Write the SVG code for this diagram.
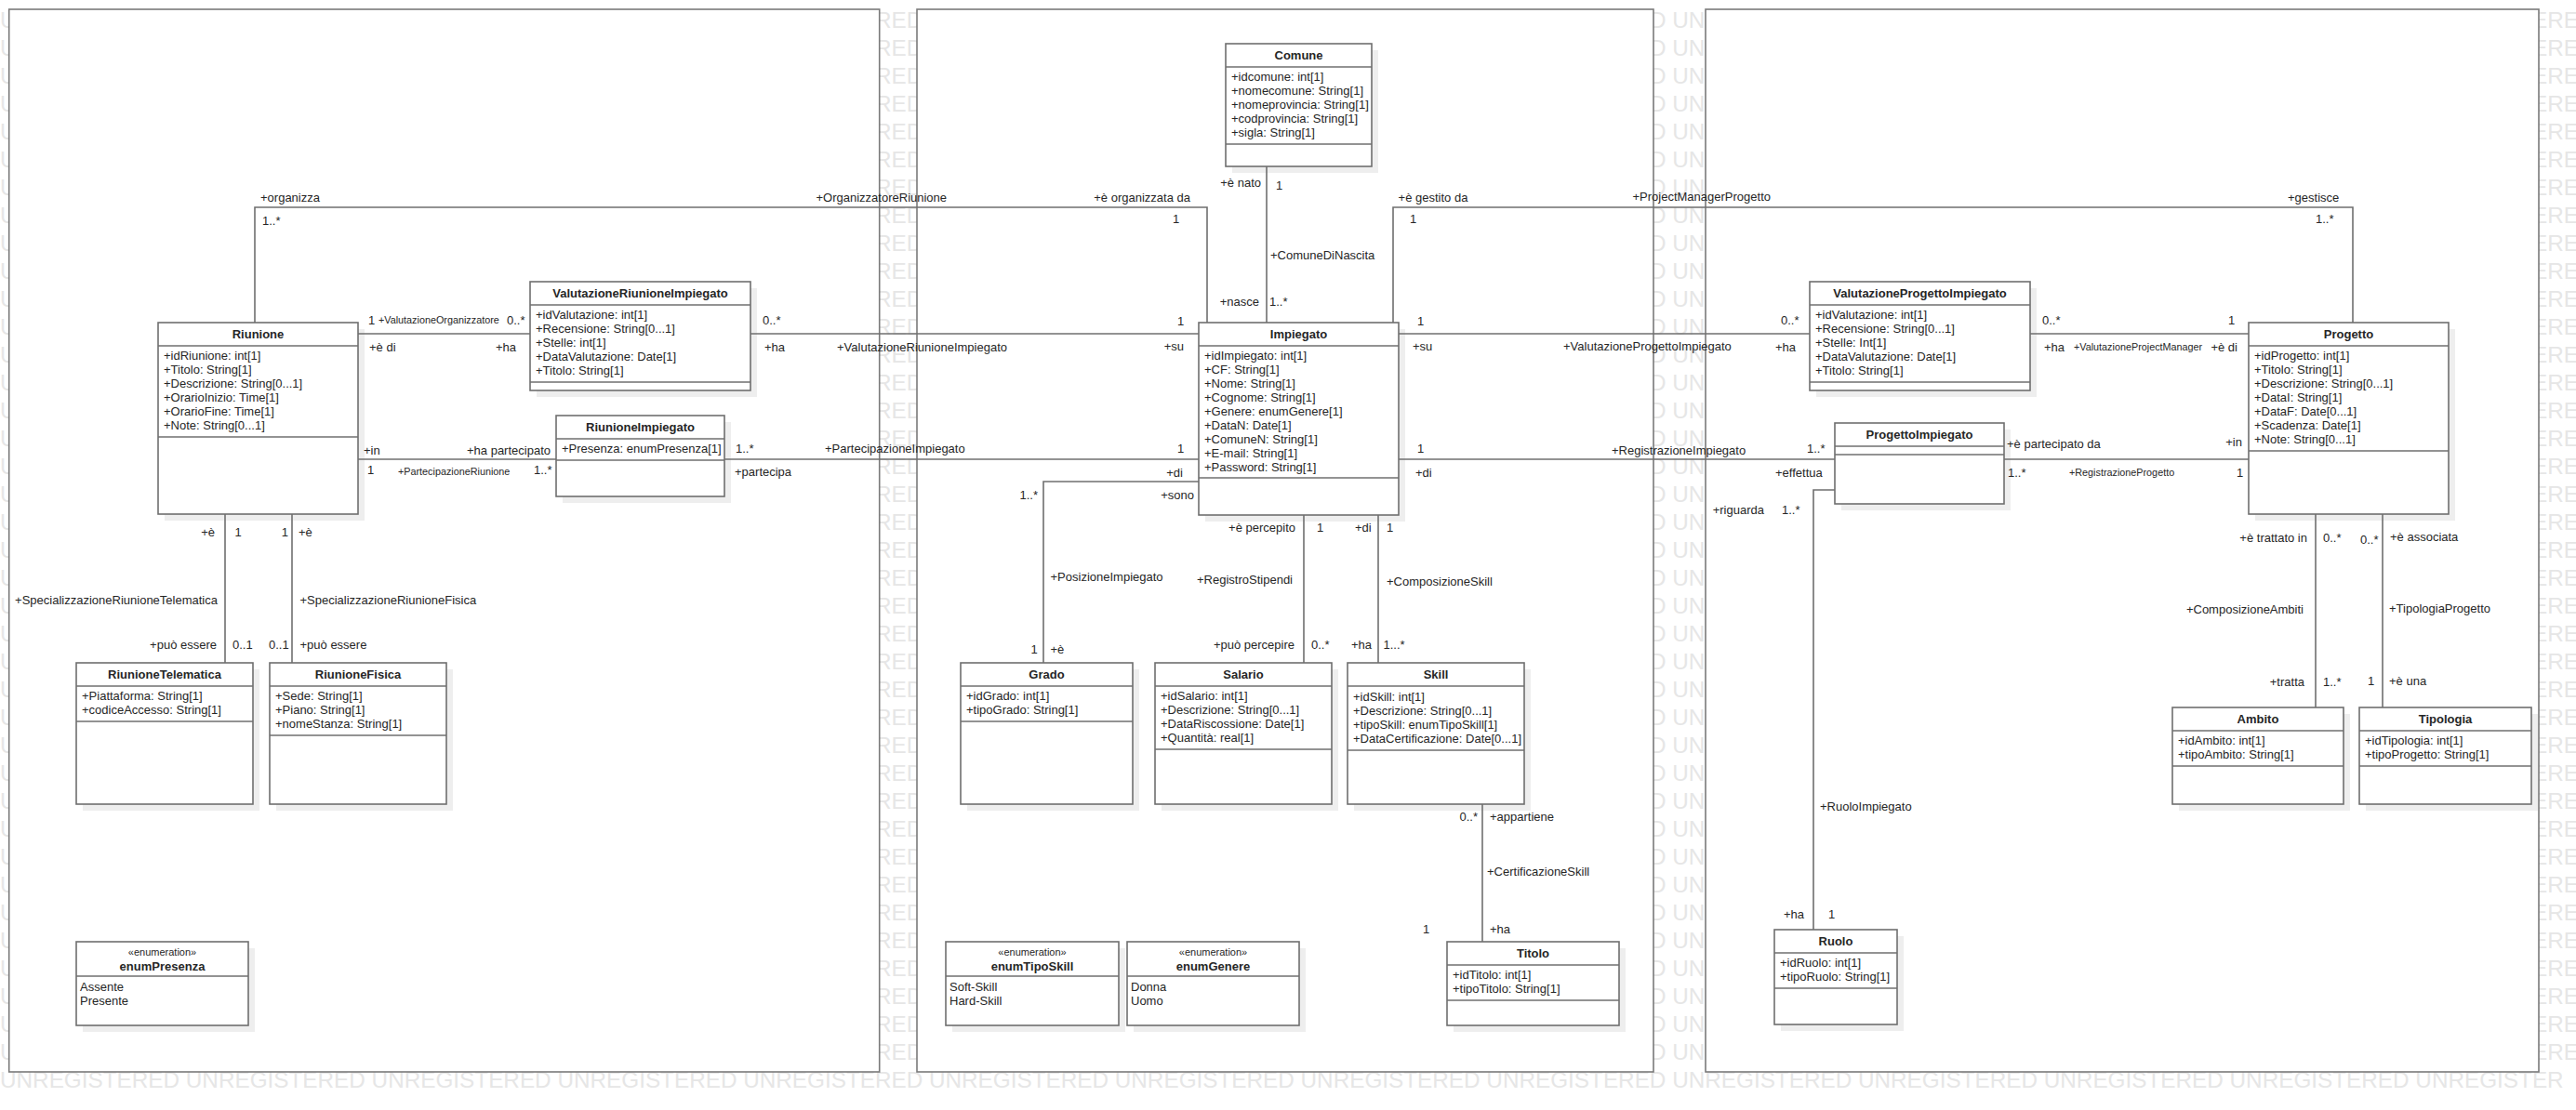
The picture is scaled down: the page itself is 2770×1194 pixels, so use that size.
<svg xmlns="http://www.w3.org/2000/svg" width="2770" height="1194" viewBox="0 0 2770 1194">
<style>
.wm{font-family:'Liberation Sans',Arial,sans-serif;font-size:24.3px;fill:#e6e6e6}
.pn{fill:#fff;stroke:#7a7a7a;stroke-width:1.6}
.sh{fill:#eeeeee}
.bx{fill:#fff;stroke:#6f6f6f;stroke-width:1.6}
.dv{stroke:#6f6f6f;stroke-width:1.6}
.cn{fill:none;stroke:#6f6f6f;stroke-width:1.6}
.t{font-family:'Liberation Sans',Arial,sans-serif;font-size:13px;fill:#262626}
.b{font-weight:bold}
.s{font-size:10.8px}
.st{font-size:11px}
.e{text-anchor:end}
.m{text-anchor:middle}
</style>
<rect x="0" y="0" width="2770" height="1194" fill="#fff"/>
<!-- licence watermark: only the pieces left visible around the frames -->
<g id="watermark" class="wm">
<g id="wm-left">
<text x="0" y="30.3">U</text><text x="0" y="60.3">U</text><text x="0" y="90.3">U</text><text x="0" y="120.3">U</text><text x="0" y="150.3">U</text><text x="0" y="180.3">U</text><text x="0" y="210.3">U</text><text x="0" y="240.3">U</text><text x="0" y="270.3">U</text><text x="0" y="300.3">U</text>
<text x="0" y="330.3">U</text><text x="0" y="360.3">U</text><text x="0" y="390.3">U</text><text x="0" y="420.3">U</text><text x="0" y="450.3">U</text><text x="0" y="480.3">U</text><text x="0" y="510.3">U</text><text x="0" y="540.3">U</text><text x="0" y="570.3">U</text><text x="0" y="600.3">U</text>
<text x="0" y="630.3">U</text><text x="0" y="660.3">U</text><text x="0" y="690.3">U</text><text x="0" y="720.3">U</text><text x="0" y="750.3">U</text><text x="0" y="780.3">U</text><text x="0" y="810.3">U</text><text x="0" y="840.3">U</text><text x="0" y="870.3">U</text><text x="0" y="900.3">U</text>
<text x="0" y="930.3">U</text><text x="0" y="960.3">U</text><text x="0" y="990.3">U</text><text x="0" y="1020.3">U</text><text x="0" y="1050.3">U</text><text x="0" y="1080.3">U</text><text x="0" y="1110.3">U</text><text x="0" y="1140.3">U</text>
</g>
<g id="wm-gap1">
<text x="941" y="30.3">RED</text><text x="941" y="60.3">RED</text><text x="941" y="90.3">RED</text><text x="941" y="120.3">RED</text><text x="941" y="150.3">RED</text><text x="941" y="180.3">RED</text><text x="941" y="210.3">RED</text><text x="941" y="240.3">RED</text><text x="941" y="270.3">RED</text><text x="941" y="300.3">RED</text>
<text x="941" y="330.3">RED</text><text x="941" y="360.3">RED</text><text x="941" y="390.3">RED</text><text x="941" y="420.3">RED</text><text x="941" y="450.3">RED</text><text x="941" y="480.3">RED</text><text x="941" y="510.3">RED</text><text x="941" y="540.3">RED</text><text x="941" y="570.3">RED</text><text x="941" y="600.3">RED</text>
<text x="941" y="630.3">RED</text><text x="941" y="660.3">RED</text><text x="941" y="690.3">RED</text><text x="941" y="720.3">RED</text><text x="941" y="750.3">RED</text><text x="941" y="780.3">RED</text><text x="941" y="810.3">RED</text><text x="941" y="840.3">RED</text><text x="941" y="870.3">RED</text><text x="941" y="900.3">RED</text>
<text x="941" y="930.3">RED</text><text x="941" y="960.3">RED</text><text x="941" y="990.3">RED</text><text x="941" y="1020.3">RED</text><text x="941" y="1050.3">RED</text><text x="941" y="1080.3">RED</text><text x="941" y="1110.3">RED</text><text x="941" y="1140.3">RED</text>
</g>
<g id="wm-gap2">
<text x="1773.9" y="30.3">D UN</text><text x="1773.9" y="60.3">D UN</text><text x="1773.9" y="90.3">D UN</text><text x="1773.9" y="120.3">D UN</text><text x="1773.9" y="150.3">D UN</text><text x="1773.9" y="180.3">D UN</text><text x="1773.9" y="210.3">D UN</text><text x="1773.9" y="240.3">D UN</text><text x="1773.9" y="270.3">D UN</text><text x="1773.9" y="300.3">D UN</text>
<text x="1773.9" y="330.3">D UN</text><text x="1773.9" y="360.3">D UN</text><text x="1773.9" y="390.3">D UN</text><text x="1773.9" y="420.3">D UN</text><text x="1773.9" y="450.3">D UN</text><text x="1773.9" y="480.3">D UN</text><text x="1773.9" y="510.3">D UN</text><text x="1773.9" y="540.3">D UN</text><text x="1773.9" y="570.3">D UN</text><text x="1773.9" y="600.3">D UN</text>
<text x="1773.9" y="630.3">D UN</text><text x="1773.9" y="660.3">D UN</text><text x="1773.9" y="690.3">D UN</text><text x="1773.9" y="720.3">D UN</text><text x="1773.9" y="750.3">D UN</text><text x="1773.9" y="780.3">D UN</text><text x="1773.9" y="810.3">D UN</text><text x="1773.9" y="840.3">D UN</text><text x="1773.9" y="870.3">D UN</text><text x="1773.9" y="900.3">D UN</text>
<text x="1773.9" y="930.3">D UN</text><text x="1773.9" y="960.3">D UN</text><text x="1773.9" y="990.3">D UN</text><text x="1773.9" y="1020.3">D UN</text><text x="1773.9" y="1050.3">D UN</text><text x="1773.9" y="1080.3">D UN</text><text x="1773.9" y="1110.3">D UN</text><text x="1773.9" y="1140.3">D UN</text>
</g>
<g id="wm-right">
<text x="2723" y="30.3">ERE</text><text x="2723" y="60.3">ERE</text><text x="2723" y="90.3">ERE</text><text x="2723" y="120.3">ERE</text><text x="2723" y="150.3">ERE</text><text x="2723" y="180.3">ERE</text><text x="2723" y="210.3">ERE</text><text x="2723" y="240.3">ERE</text><text x="2723" y="270.3">ERE</text><text x="2723" y="300.3">ERE</text>
<text x="2723" y="330.3">ERE</text><text x="2723" y="360.3">ERE</text><text x="2723" y="390.3">ERE</text><text x="2723" y="420.3">ERE</text><text x="2723" y="450.3">ERE</text><text x="2723" y="480.3">ERE</text><text x="2723" y="510.3">ERE</text><text x="2723" y="540.3">ERE</text><text x="2723" y="570.3">ERE</text><text x="2723" y="600.3">ERE</text>
<text x="2723" y="630.3">ERE</text><text x="2723" y="660.3">ERE</text><text x="2723" y="690.3">ERE</text><text x="2723" y="720.3">ERE</text><text x="2723" y="750.3">ERE</text><text x="2723" y="780.3">ERE</text><text x="2723" y="810.3">ERE</text><text x="2723" y="840.3">ERE</text><text x="2723" y="870.3">ERE</text><text x="2723" y="900.3">ERE</text>
<text x="2723" y="930.3">ERE</text><text x="2723" y="960.3">ERE</text><text x="2723" y="990.3">ERE</text><text x="2723" y="1020.3">ERE</text><text x="2723" y="1050.3">ERE</text><text x="2723" y="1080.3">ERE</text><text x="2723" y="1110.3">ERE</text><text x="2723" y="1140.3">ERE</text>
</g>
<text id="wm-bottom" x="0" y="1170.3">UNREGISTERED UNREGISTERED UNREGISTERED UNREGISTERED UNREGISTERED UNREGISTERED UNREGISTERED UNREGISTERED UNREGISTERED UNREGISTERED UNREGISTERED UNREGISTERED UNREGISTERED UNREGISTER</text>
</g>

<!-- three frames -->
<g id="frames">
<rect class="pn" x="9.7" y="10" width="936" height="1143"/>
<rect class="pn" x="986" y="10" width="792" height="1143"/>
<rect class="pn" x="1834" y="10" width="896" height="1143"/>
</g>

<!-- classes -->
<g id="Riunione">
<rect class="sh" x="177" y="354" width="215" height="206"/>
<rect class="bx" x="170" y="347" width="215" height="206"/>
<line class="dv" x1="170" y1="372" x2="385" y2="372"/><line class="dv" x1="170" y1="470" x2="385" y2="470"/>
<text class="t b m" x="277.5" y="364">Riunione</text>
<text class="t" x="176" y="386.5"><tspan x="176">+idRiunione: int[1]</tspan><tspan x="176" dy="15">+Titolo: String[1]</tspan><tspan x="176" dy="15">+Descrizione: String[0...1]</tspan><tspan x="176" dy="15">+OrarioInizio: Time[1]</tspan><tspan x="176" dy="15">+OrarioFine: Time[1]</tspan><tspan x="176" dy="15">+Note: String[0...1]</tspan></text>
</g>
<g id="ValutazioneRiunioneImpiegato">
<rect class="sh" x="577" y="310" width="237" height="117"/>
<rect class="bx" x="570" y="303" width="237" height="117"/>
<line class="dv" x1="570" y1="328" x2="807" y2="328"/><line class="dv" x1="570" y1="411" x2="807" y2="411"/>
<text class="t b m" x="688.5" y="320">ValutazioneRiunioneImpiegato</text>
<text class="t" x="576" y="342.5"><tspan x="576">+idValutazione: int[1]</tspan><tspan x="576" dy="15">+Recensione: String[0...1]</tspan><tspan x="576" dy="15">+Stelle: int[1]</tspan><tspan x="576" dy="15">+DataValutazione: Date[1]</tspan><tspan x="576" dy="15">+Titolo: String[1]</tspan></text>
</g>
<g id="RiunioneImpiegato">
<rect class="sh" x="605" y="454" width="181" height="87"/>
<rect class="bx" x="598" y="447" width="181" height="87"/>
<line class="dv" x1="598" y1="472" x2="779" y2="472"/><line class="dv" x1="598" y1="495" x2="779" y2="495"/>
<text class="t b m" x="688.5" y="464">RiunioneImpiegato</text>
<text class="t" x="604" y="486.5">+Presenza: enumPresenza[1]</text>
</g>
<g id="RiunioneTelematica">
<rect class="sh" x="89" y="720" width="190" height="152"/>
<rect class="bx" x="82" y="713" width="190" height="152"/>
<line class="dv" x1="82" y1="738" x2="272" y2="738"/><line class="dv" x1="82" y1="776" x2="272" y2="776"/>
<text class="t b m" x="177" y="730">RiunioneTelematica</text>
<text class="t" x="88" y="752.5"><tspan x="88">+Piattaforma: String[1]</tspan><tspan x="88" dy="15">+codiceAccesso: String[1]</tspan></text>
</g>
<g id="RiunioneFisica">
<rect class="sh" x="297" y="720" width="190" height="152"/>
<rect class="bx" x="290" y="713" width="190" height="152"/>
<line class="dv" x1="290" y1="738" x2="480" y2="738"/><line class="dv" x1="290" y1="791" x2="480" y2="791"/>
<text class="t b m" x="385" y="730">RiunioneFisica</text>
<text class="t" x="296" y="752.5"><tspan x="296">+Sede: String[1]</tspan><tspan x="296" dy="15">+Piano: String[1]</tspan><tspan x="296" dy="15">+nomeStanza: String[1]</tspan></text>
</g>
<g id="enumPresenza">
<rect class="sh" x="89" y="1020" width="185" height="90"/>
<rect class="bx" x="82" y="1013" width="185" height="90"/>
<line class="dv" x1="82" y1="1050" x2="267" y2="1050"/>
<text class="t st m" x="174.5" y="1028">«enumeration»</text>
<text class="t b m" x="174.5" y="1043.5">enumPresenza</text>
<text class="t" x="86" y="1066"><tspan x="86">Assente</tspan><tspan x="86" dy="15">Presente</tspan></text>
</g>
<g id="Comune">
<rect class="sh" x="1325" y="54" width="157" height="132"/>
<rect class="bx" x="1318" y="47" width="157" height="132"/>
<line class="dv" x1="1318" y1="72" x2="1475" y2="72"/><line class="dv" x1="1318" y1="155" x2="1475" y2="155"/>
<text class="t b m" x="1396.5" y="64">Comune</text>
<text class="t" x="1324" y="86.5"><tspan x="1324">+idcomune: int[1]</tspan><tspan x="1324" dy="15">+nomecomune: String[1]</tspan><tspan x="1324" dy="15">+nomeprovincia: String[1]</tspan><tspan x="1324" dy="15">+codprovincia: String[1]</tspan><tspan x="1324" dy="15">+sigla: String[1]</tspan></text>
</g>
<g id="Impiegato">
<rect class="sh" x="1296" y="354" width="215" height="207"/>
<rect class="bx" x="1289" y="347" width="215" height="207"/>
<line class="dv" x1="1289" y1="372" x2="1504" y2="372"/><line class="dv" x1="1289" y1="514" x2="1504" y2="514"/>
<text class="t b m" x="1396.5" y="364">Impiegato</text>
<text class="t" x="1295" y="386.5"><tspan x="1295">+idImpiegato: int[1]</tspan><tspan x="1295" dy="15">+CF: String[1]</tspan><tspan x="1295" dy="15">+Nome: String[1]</tspan><tspan x="1295" dy="15">+Cognome: String[1]</tspan><tspan x="1295" dy="15">+Genere: enumGenere[1]</tspan><tspan x="1295" dy="15">+DataN: Date[1]</tspan><tspan x="1295" dy="15">+ComuneN: String[1]</tspan><tspan x="1295" dy="15">+E-mail: String[1]</tspan><tspan x="1295" dy="15">+Password: String[1]</tspan></text>
</g>
<g id="Grado">
<rect class="sh" x="1040" y="720" width="185" height="152"/>
<rect class="bx" x="1033" y="713" width="185" height="152"/>
<line class="dv" x1="1033" y1="738" x2="1218" y2="738"/><line class="dv" x1="1033" y1="776" x2="1218" y2="776"/>
<text class="t b m" x="1125.5" y="730">Grado</text>
<text class="t" x="1039" y="752.5"><tspan x="1039">+idGrado: int[1]</tspan><tspan x="1039" dy="15">+tipoGrado: String[1]</tspan></text>
</g>
<g id="Salario">
<rect class="sh" x="1249" y="720" width="190" height="152"/>
<rect class="bx" x="1242" y="713" width="190" height="152"/>
<line class="dv" x1="1242" y1="738" x2="1432" y2="738"/><line class="dv" x1="1242" y1="806" x2="1432" y2="806"/>
<text class="t b m" x="1337" y="730">Salario</text>
<text class="t" x="1248" y="752.5"><tspan x="1248">+idSalario: int[1]</tspan><tspan x="1248" dy="15">+Descrizione: String[0...1]</tspan><tspan x="1248" dy="15">+DataRiscossione: Date[1]</tspan><tspan x="1248" dy="15">+Quantità: real[1]</tspan></text>
</g>
<g id="Skill">
<rect class="sh" x="1456" y="720" width="190" height="152"/>
<rect class="bx" x="1449" y="713" width="190" height="152"/>
<line class="dv" x1="1449" y1="738" x2="1639" y2="738"/><line class="dv" x1="1449" y1="807" x2="1639" y2="807"/>
<text class="t b m" x="1544" y="730">Skill</text>
<text class="t" x="1455" y="754"><tspan x="1455">+idSkill: int[1]</tspan><tspan x="1455" dy="15">+Descrizione: String[0...1]</tspan><tspan x="1455" dy="15">+tipoSkill: enumTipoSkill[1]</tspan><tspan x="1455" dy="15">+DataCertificazione: Date[0...1]</tspan></text>
</g>
<g id="Titolo">
<rect class="sh" x="1563" y="1020" width="185" height="90"/>
<rect class="bx" x="1556" y="1013" width="185" height="90"/>
<line class="dv" x1="1556" y1="1038" x2="1741" y2="1038"/><line class="dv" x1="1556" y1="1076" x2="1741" y2="1076"/>
<text class="t b m" x="1648.5" y="1030">Titolo</text>
<text class="t" x="1562" y="1052.5"><tspan x="1562">+idTitolo: int[1]</tspan><tspan x="1562" dy="15">+tipoTitolo: String[1]</tspan></text>
</g>
<g id="enumTipoSkill">
<rect class="sh" x="1024" y="1020" width="186" height="90"/>
<rect class="bx" x="1017" y="1013" width="186" height="90"/>
<line class="dv" x1="1017" y1="1050" x2="1203" y2="1050"/>
<text class="t st m" x="1110" y="1028">«enumeration»</text>
<text class="t b m" x="1110" y="1043.5">enumTipoSkill</text>
<text class="t" x="1021" y="1066"><tspan x="1021">Soft-Skill</tspan><tspan x="1021" dy="15">Hard-Skill</tspan></text>
</g>
<g id="enumGenere">
<rect class="sh" x="1219" y="1020" width="185" height="90"/>
<rect class="bx" x="1212" y="1013" width="185" height="90"/>
<line class="dv" x1="1212" y1="1050" x2="1397" y2="1050"/>
<text class="t st m" x="1304.5" y="1028">«enumeration»</text>
<text class="t b m" x="1304.5" y="1043.5">enumGenere</text>
<text class="t" x="1216" y="1066"><tspan x="1216">Donna</tspan><tspan x="1216" dy="15">Uomo</tspan></text>
</g>
<g id="ValutazioneProgettoImpiegato">
<rect class="sh" x="1953" y="310" width="237" height="117"/>
<rect class="bx" x="1946" y="303" width="237" height="117"/>
<line class="dv" x1="1946" y1="328" x2="2183" y2="328"/><line class="dv" x1="1946" y1="411" x2="2183" y2="411"/>
<text class="t b m" x="2064.5" y="320">ValutazioneProgettoImpiegato</text>
<text class="t" x="1952" y="342.5"><tspan x="1952">+idValutazione: int[1]</tspan><tspan x="1952" dy="15">+Recensione: String[0...1]</tspan><tspan x="1952" dy="15">+Stelle: Int[1]</tspan><tspan x="1952" dy="15">+DataValutazione: Date[1]</tspan><tspan x="1952" dy="15">+Titolo: String[1]</tspan></text>
</g>
<g id="ProgettoImpiegato">
<rect class="sh" x="1980" y="462" width="182" height="87"/>
<rect class="bx" x="1973" y="455" width="182" height="87"/>
<line class="dv" x1="1973" y1="480" x2="2155" y2="480"/><line class="dv" x1="1973" y1="489" x2="2155" y2="489"/>
<text class="t b m" x="2064" y="472">ProgettoImpiegato</text>
</g>
<g id="Progetto">
<rect class="sh" x="2425" y="354" width="215" height="206"/>
<rect class="bx" x="2418" y="347" width="215" height="206"/>
<line class="dv" x1="2418" y1="372" x2="2633" y2="372"/><line class="dv" x1="2418" y1="485" x2="2633" y2="485"/>
<text class="t b m" x="2525.5" y="364">Progetto</text>
<text class="t" x="2424" y="386.5"><tspan x="2424">+idProgetto: int[1]</tspan><tspan x="2424" dy="15">+Titolo: String[1]</tspan><tspan x="2424" dy="15">+Descrizione: String[0...1]</tspan><tspan x="2424" dy="15">+DataI: String[1]</tspan><tspan x="2424" dy="15">+DataF: Date[0...1]</tspan><tspan x="2424" dy="15">+Scadenza: Date[1]</tspan><tspan x="2424" dy="15">+Note: String[0...1]</tspan></text>
</g>
<g id="Ambito">
<rect class="sh" x="2343" y="768" width="184" height="104"/>
<rect class="bx" x="2336" y="761" width="184" height="104"/>
<line class="dv" x1="2336" y1="786" x2="2520" y2="786"/><line class="dv" x1="2336" y1="824" x2="2520" y2="824"/>
<text class="t b m" x="2428" y="778">Ambito</text>
<text class="t" x="2342" y="800.5"><tspan x="2342">+idAmbito: int[1]</tspan><tspan x="2342" dy="15">+tipoAmbito: String[1]</tspan></text>
</g>
<g id="Tipologia">
<rect class="sh" x="2544" y="768" width="185" height="104"/>
<rect class="bx" x="2537" y="761" width="185" height="104"/>
<line class="dv" x1="2537" y1="786" x2="2722" y2="786"/><line class="dv" x1="2537" y1="824" x2="2722" y2="824"/>
<text class="t b m" x="2629.5" y="778">Tipologia</text>
<text class="t" x="2543" y="800.5"><tspan x="2543">+idTipologia: int[1]</tspan><tspan x="2543" dy="15">+tipoProgetto: String[1]</tspan></text>
</g>
<g id="Ruolo">
<rect class="sh" x="1915" y="1007" width="132" height="102"/>
<rect class="bx" x="1908" y="1000" width="132" height="102"/>
<line class="dv" x1="1908" y1="1025" x2="2040" y2="1025"/><line class="dv" x1="1908" y1="1063" x2="2040" y2="1063"/>
<text class="t b m" x="1974" y="1017">Ruolo</text>
<text class="t" x="1914" y="1039.5"><tspan x="1914">+idRuolo: int[1]</tspan><tspan x="1914" dy="15">+tipoRuolo: String[1]</tspan></text>
</g>

<!-- associations -->
<g id="connectors">
<g class="cn">
<polyline points="274,347 274,223 1298,223 1298,347"/>
<line x1="385" y1="359" x2="570" y2="359"/>
<line x1="807" y1="359" x2="1289" y2="359"/>
<line x1="385" y1="494" x2="598" y2="494"/>
<line x1="779" y1="494" x2="1289" y2="494"/>
<line x1="242" y1="553" x2="242" y2="713"/>
<line x1="314" y1="553" x2="314" y2="713"/>
<line x1="1362" y1="179" x2="1362" y2="347"/>
<polyline points="1498,347 1498,223 2530,223 2530,347"/>
<line x1="1504" y1="359" x2="1946" y2="359"/>
<line x1="2183" y1="359" x2="2418" y2="359"/>
<line x1="1504" y1="494" x2="1973" y2="494"/>
<line x1="2155" y1="494" x2="2418" y2="494"/>
<polyline points="1973,527 1950,527 1950,1000"/>
<polyline points="1289,518 1122,518 1122,713"/>
<line x1="1402" y1="554" x2="1402" y2="713"/>
<line x1="1482" y1="554" x2="1482" y2="713"/>
<line x1="1594" y1="865" x2="1594" y2="1013"/>
<line x1="2490" y1="553" x2="2490" y2="761"/>
<line x1="2562" y1="553" x2="2562" y2="761"/>
</g>
<g class="t">
<!-- OrganizzatoreRiunione -->
<text x="280" y="216.5">+organizza</text>
<text x="282" y="241.5">1..*</text>
<text x="877.5" y="216.5">+OrganizzatoreRiunione</text>
<text class="e" x="1280" y="216.5">+è organizzata da</text>
<text x="1261" y="239.5">1</text>
<!-- ValutazioneOrganizzatore -->
<text x="396" y="348.5">1</text>
<text class="s" x="407" y="348">+ValutazioneOrganizzatore</text>
<text x="545" y="348.5">0..*</text>
<text x="397" y="377.5">+è di</text>
<text x="533" y="377.5">+ha</text>
<!-- ValutazioneRiunioneImpiegato -->
<text x="820" y="348.5">0..*</text>
<text x="822" y="377.5">+ha</text>
<text x="900" y="377.5">+ValutazioneRiunioneImpiegato</text>
<text x="1266" y="349.5">1</text>
<text class="e" x="1273" y="376.5">+su</text>
<!-- PartecipazioneRiunione -->
<text x="391" y="488.5">+in</text>
<text x="395" y="509.5">1</text>
<text class="s" x="428" y="511">+PartecipazioneRiunione</text>
<text x="502" y="488.5">+ha partecipato</text>
<text x="574" y="509.5">1..*</text>
<!-- PartecipazioneImpiegato -->
<text x="791" y="486.5">1..*</text>
<text x="790" y="511.5">+partecipa</text>
<text x="887" y="486.5">+PartecipazioneImpiegato</text>
<text x="1266" y="486.5">1</text>
<text class="e" x="1272" y="512.5">+di</text>
<!-- PosizioneImpiegato -->
<text class="e" x="1284" y="536.5">+sono</text>
<text class="e" x="1116" y="536.5">1..*</text>
<text x="1129.5" y="624.5">+PosizioneImpiegato</text>
<text x="1108.5" y="702.5">1</text>
<text x="1129.5" y="702.5">+è</text>
<!-- Specializzazioni -->
<text class="e" x="231" y="576.5">+è</text>
<text x="252.5" y="576.5">1</text>
<text class="e" x="310" y="576.5">1</text>
<text x="321" y="576.5">+è</text>
<text class="e" x="234" y="649.5">+SpecializzazioneRiunioneTelematica</text>
<text x="322.5" y="649.5">+SpecializzazioneRiunioneFisica</text>
<text class="e" x="233" y="697.5">+può essere</text>
<text x="250" y="697.5">0..1</text>
<text class="e" x="310.7" y="697.5">0..1</text>
<text x="322.5" y="697.5">+può essere</text>
<!-- ComuneDiNascita -->
<text class="e" x="1356" y="200.5">+è nato</text>
<text x="1372" y="203.5">1</text>
<text x="1366" y="278.5">+ComuneDiNascita</text>
<text class="e" x="1354" y="328.5">+nasce</text>
<text x="1365" y="328.5">1..*</text>
<!-- ProjectManagerProgetto -->
<text x="1503.6" y="216.5">+è gestito da</text>
<text x="1516" y="239.5">1</text>
<text class="e" x="1904" y="215.5">+ProjectManagerProgetto</text>
<text x="2460" y="216.5">+gestisce</text>
<text x="2490" y="240">1..*</text>
<!-- ValutazioneProgettoImpiegato -->
<text x="1524" y="349.5">1</text>
<text x="1519" y="376.5">+su</text>
<text x="1681" y="376.5">+ValutazioneProgettoImpiegato</text>
<text x="1915" y="348.5">0..*</text>
<text x="1909" y="377.5">+ha</text>
<!-- ValutazioneProjectManager -->
<text x="2196" y="348.5">0..*</text>
<text x="2198" y="377.5">+ha</text>
<text class="s" x="2230" y="377">+ValutazioneProjectManager</text>
<text x="2396" y="348.5">1</text>
<text class="e" x="2406" y="377.5">+è di</text>
<!-- RegistrazioneImpiegato -->
<text x="1524" y="486.5">1</text>
<text x="1522" y="512.5">+di</text>
<text x="1733" y="488.5">+RegistrazioneImpiegato</text>
<text x="1943" y="486.5">1..*</text>
<text x="1909" y="512.5">+effettua</text>
<!-- RegistrazioneProgetto -->
<text x="2158" y="481.5">+è partecipato da</text>
<text x="2159" y="512.5">1..*</text>
<text class="s" x="2225" y="512">+RegistrazioneProgetto</text>
<text class="e" x="2411" y="479.5">+in</text>
<text x="2405" y="512.5">1</text>
<!-- RuoloImpiegato -->
<text class="e" x="1897" y="552.5">+riguarda</text>
<text x="1916" y="552.5">1..*</text>
<text x="1957" y="871.5">+RuoloImpiegato</text>
<text class="e" x="1940" y="988">+ha</text>
<text x="1966" y="988">1</text>
<!-- RegistroStipendi -->
<text class="e" x="1393" y="571.5">+è percepito</text>
<text x="1416" y="571.5">1</text>
<text class="e" x="1390" y="628">+RegistroStipendi</text>
<text class="e" x="1392" y="697.5">+può percepire</text>
<text x="1410" y="697.5">0..*</text>
<!-- ComposizioneSkill -->
<text class="e" x="1474.6" y="571.5">+di</text>
<text x="1491" y="571.5">1</text>
<text x="1491" y="630">+ComposizioneSkill</text>
<text class="e" x="1475" y="697.5">+ha</text>
<text x="1487.5" y="697.5">1...*</text>
<!-- CertificazioneSkill -->
<text class="e" x="1589" y="882.5">0..*</text>
<text x="1602" y="882.5">+appartiene</text>
<text x="1599" y="942">+CertificazioneSkill</text>
<text x="1530" y="1004">1</text>
<text x="1602" y="1004">+ha</text>
<!-- ComposizioneAmbiti -->
<text class="e" x="2481" y="582.5">+è trattato in</text>
<text x="2498" y="582.5">0..*</text>
<text class="e" x="2477" y="660">+ComposizioneAmbiti</text>
<text class="e" x="2478" y="737.5">+tratta</text>
<text x="2498" y="737.5">1..*</text>
<!-- TipologiaProgetto -->
<text x="2538" y="584.5">0..*</text>
<text x="2570" y="581.5">+è associata</text>
<text x="2569" y="658.5">+TipologiaProgetto</text>
<text x="2546" y="736.5">1</text>
<text x="2569" y="736.5">+è una</text>
</g>
</g>
</svg>
